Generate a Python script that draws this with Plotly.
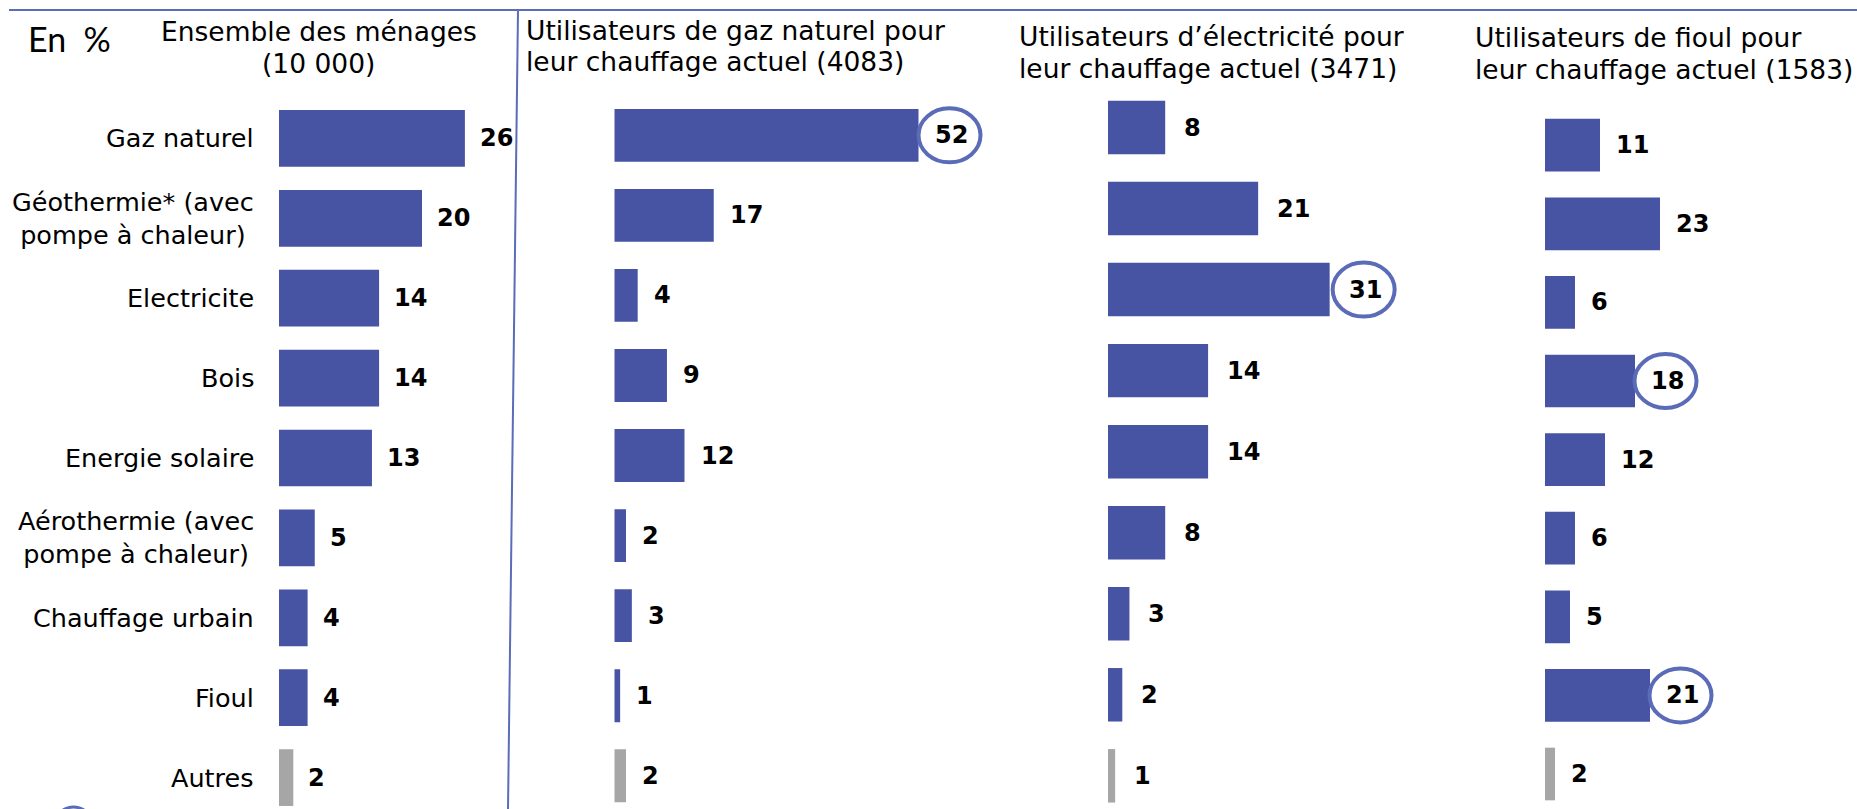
import plotly.graph_objects as go

W, H = 1857, 809

# ---------------- data ----------------
categories = [
    "Gaz naturel",
    "Géothermie* (avec<br>pompe à chaleur)",
    "Electricite",
    "Bois",
    "Energie solaire",
    "Aérothermie (avec<br>pompe à chaleur)",
    "Chauffage urbain",
    "Fioul",
    "Autres",
]
ensemble = [26, 20, 14, 14, 13, 5, 4, 4, 2]
gaz_users = [52, 17, 4, 9, 12, 2, 3, 1, 2]
elec_users = [8, 21, 31, 14, 14, 8, 3, 2, 1]
fioul_users = [11, 23, 6, 18, 12, 6, 5, 21, 2]

titles = [
    ["Ensemble des ménages", "(10 000)"],
    ["Utilisateurs de gaz naturel pour", "leur chauffage actuel (4083)"],
    ["Utilisateurs d’électricité pour", "leur chauffage actuel (3471)"],
    ["Utilisateurs de fioul pour", "leur chauffage actuel (1583)"],
]
circled = [[], [0], [2], [3, 7]]
unit_label = "En %"

# ---------------- style / layout ----------------
BLUE = "#4753A3"
GREY = "#A6A6A6"
RING = "#5A6BB8"
LINE = "#5B6CB9"
TXT = "#000000"
FONT = "DejaVu Sans"

series = [ensemble, gaz_users, elec_users, fioul_users]
# per panel geometry in pixels
geo = [
    dict(x0=279, k=7.15, x1=509, c0=138.4, pitch=79.9, bw=0.71, gap=13),
    dict(x0=614.3, k=5.85, x1=1000, c0=135.3, pitch=80.06, bw=0.66, gap=14),
    dict(x0=1108, k=7.15, x1=1450, c0=127.5, pitch=81.04, bw=0.66, gap=17),
    dict(x0=1545, k=5.0, x1=1857, c0=145.2, pitch=78.6, bw=0.67, gap=13.5),
]
title_pos = [
    dict(x=318.5, y=(32, 63.5), xanchor="center"),
    dict(x=524, y=(30.5, 62), xanchor="left"),
    dict(x=1016.7, y=(36.7, 68.3), xanchor="left"),
    dict(x=1472.7, y=(37.5, 69.5), xanchor="left"),
]

def px_x(x):
    return x / W

def px_y(y):
    return 1 - y / H

fig = go.Figure()
annotations = []
shapes = []

for i, (vals, g) in enumerate(zip(series, geo)):
    n = "" if i == 0 else str(i + 1)
    colors = [GREY if c == "Autres" else BLUE for c in categories]
    fig.add_trace(go.Bar(
        x=vals, y=categories, orientation="h",
        marker=dict(color=colors, line=dict(width=0)),
        width=g["bw"], xaxis="x" + n, yaxis="y" + n,
        hoverinfo="skip", showlegend=False,
    ))
    top = g["c0"] - 0.5 * g["pitch"]
    bottom_idx = (H - g["c0"]) / g["pitch"]
    fig.layout["xaxis" + n] = dict(
        domain=[px_x(g["x0"]), px_x(g["x1"])],
        range=[0, (g["x1"] - g["x0"]) / g["k"]],
        visible=False, anchor="y" + n, fixedrange=True,
    )
    fig.layout["yaxis" + n] = dict(
        domain=[0, px_y(top)],
        type="category", categoryorder="array", categoryarray=categories,
        range=[bottom_idx, -0.5],
        visible=False, anchor="x" + n, fixedrange=True,
    )
    # value labels
    for j, (c, v) in enumerate(zip(categories, vals)):
        annotations.append(dict(
            x=v, y=c, xref="x" + n, yref="y" + n,
            text="<b>%d</b>" % v, showarrow=False,
            xanchor="left", yanchor="middle", xshift=g["gap"],
            font=dict(family=FONT, size=24, color=TXT),
        ))
    # circles around highlighted values
    for j in circled[i]:
        v = vals[j]
        off = g["gap"] + 17
        shapes.append(dict(
            type="circle", xref="x" + n, yref="y" + n,
            xsizemode="pixel", ysizemode="pixel",
            xanchor=v, yanchor=j,
            x0=off - 31, x1=off + 31, y0=-27, y1=27,
            line=dict(color=RING, width=4), layer="above",
        ))
    # panel title (two lines)
    tp = title_pos[i]
    for line_text, ly in zip(titles[i], tp["y"]):
        annotations.append(dict(
            x=px_x(tp["x"]), y=px_y(ly), xref="paper", yref="paper",
            text=line_text, showarrow=False, xanchor=tp["xanchor"], yanchor="middle",
            font=dict(family=FONT, size=26.5, color=TXT),
        ))

# category labels (left panel)
for c in categories:
    annotations.append(dict(
        x=px_x(256), y=c, xref="paper", yref="y",
        text=c, showarrow=False, xanchor="right", yanchor="middle",
        align="center", font=dict(family=FONT, size=25.5, color=TXT),
    ))

# unit label
annotations.append(dict(
    x=px_x(26), y=px_y(39), xref="paper", yref="paper",
    text=unit_label.replace(" ", "&nbsp;&nbsp;"), showarrow=False,
    xanchor="left", yanchor="middle",
    font=dict(family="Lato", size=34, color=TXT),
))

# frame lines
shapes.append(dict(type="line", xref="paper", yref="paper",
                   x0=px_x(9), x1=1, y0=px_y(10), y1=px_y(10),
                   line=dict(color=LINE, width=2)))
shapes.append(dict(type="line", xref="paper", yref="paper",
                   x0=px_x(518), x1=px_x(508), y0=px_y(10), y1=0,
                   line=dict(color=LINE, width=2)))
# partial ring at bottom-left edge
shapes.append(dict(type="circle", xref="paper", yref="paper",
                   x0=px_x(55), x1=px_x(92), y0=px_y(807), y1=px_y(842),
                   line=dict(color=RING, width=3)))

fig.update_layout(
    width=W, height=H, autosize=False,
    margin=dict(l=0, r=0, t=0, b=0, pad=0),
    paper_bgcolor="white", plot_bgcolor="white",
    annotations=annotations, shapes=shapes,
    bargap=0.3, hovermode=False,
)

fig.write_html(
    "out.html",
    config={"displayModeBar": False, "staticPlot": True},
    post_script="document.body.style.margin='0';document.body.style.overflow='hidden';",
)
